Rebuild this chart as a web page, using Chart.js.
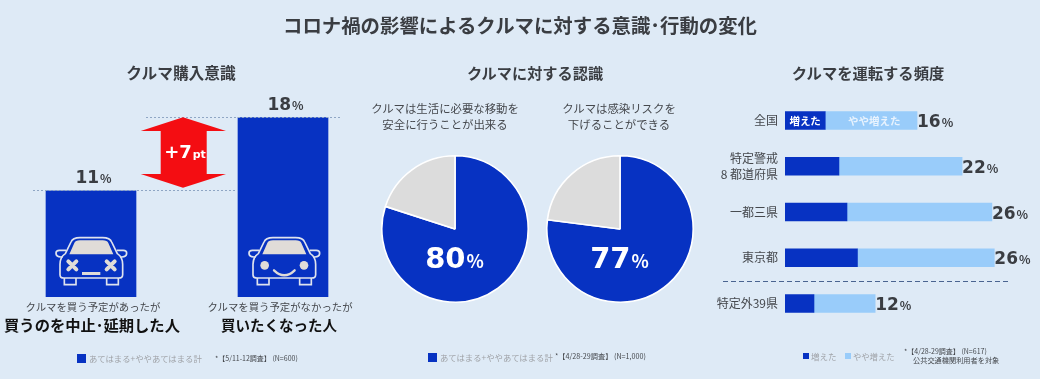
<!DOCTYPE html>
<html lang="ja"><head><meta charset="utf-8">
<script src="https://cdn.jsdelivr.net/npm/chart.js@4"></script>
<style>
html,body{margin:0;padding:0;background:#deeaf6;width:1040px;height:379px;overflow:hidden;font-family:"Noto Sans CJK JP","Noto Sans",sans-serif}
canvas{position:absolute;display:block}
.t{position:absolute;white-space:nowrap;line-height:1;transform:translate(-50%,-50%);z-index:3}
.l{transform:translate(0,-50%)}
.sq{position:absolute}
svg{position:absolute;left:0;top:0;pointer-events:none;z-index:2}
</style></head><body>
<svg id="deco" width="1040" height="379" viewBox="0 0 1040 379">
<defs>
<g id="carBody" fill="none" stroke="#dfe3ee" stroke-width="5">
<path d="M28,50 L45,15 Q50,2 72,2 H140 Q162,2 167,15 L184,50 Q200,60 200,82 V113 Q200,123 188,123 H24 Q12,123 12,113 V82 Q12,60 28,50 Z"/>
<path d="M40,52 L55,18 Q58,10 72,10 H140 Q154,10 157,18 L172,52 Z" fill="#e0dcd8" stroke="none"/>
<path d="M30,40 H10 Q0,40 0,48 Q0,60 14,60 H20"/><path d="M182,40 H202 Q212,40 212,48 Q212,60 198,60 H192"/>
<path d="M25,123 V143 H60 V123"/><path d="M152,123 V143 H187 V123"/>
</g></defs>
<path d="M146,117.5H340M33,190.5H237" stroke="#8fa6c4" stroke-width="1" stroke-dasharray="2 2" fill="none"/>
<path d="M183,117.3L226,131H206.7V174H226L183,187.7L140.7,174H160.7V131H140.7Z" fill="#f40d12"/>
<g transform="translate(56,237) scale(.3333)"><use href="#carBody"/>
<path d="M37,73L61,97M61,73L37,97M152,73L176,97M176,73L152,97" stroke="#e0dcd8" stroke-width="12" stroke-linecap="round"/>
<rect x="78" y="105" width="55" height="9" fill="#e0dcd8"/></g>
<g transform="translate(249,237) scale(.3333)"><use href="#carBody"/>
<circle cx="47" cy="85" r="13" fill="#e0dcd8"/><circle cx="165" cy="85" r="13" fill="#e0dcd8"/>
<path d="M75,100Q106,130 137,100" fill="none" stroke="#e0dcd8" stroke-width="7" stroke-linecap="round"/></g>
<path d="M723,281.5H1011" stroke="#4a6490" stroke-width="1.2" stroke-dasharray="5 3" fill="none"/>
</svg>
<canvas id="barChart" width="384" height="212" style="left:-5px;top:85px"></canvas>
<canvas id="pieA" width="152" height="152" style="left:379px;top:153px"></canvas>
<canvas id="pieB" width="152" height="152" style="left:543.5px;top:153px"></canvas>
<canvas id="hbarChart" width="340" height="258" style="left:700px;top:83px"></canvas>
<script>
const BLUE = '#0732c2', LIGHT = '#99ccfa', GREY = '#dcdcdc', INK = '#3a3d42';
const FONT = '"Noto Sans CJK JP","Noto Sans",sans-serif';
const NUM = '"DejaVu Sans",sans-serif';

const purchaseCategories = ['買うのを中止・延期した人', '買いたくなった人'];
const purchaseValues = [11, 18];
const pieACategories = ['あてはまる+ややあてはまる計', 'その他'];
const pieAValues = [80, 20];
const pieBCategories = ['あてはまる+ややあてはまる計', 'その他'];
const pieBValues = [77, 23];
const driveCategories = ['全国', ['特定警戒', '8 都道府県'], '一都三県', '東京都', '特定外39県'];
const driveIncreased = [5, 6.7, 7.7, 9, 3.6];
const driveSomewhat = [11.4, 15.3, 18, 17, 7.6];
const driveTotals = [16, 22, 26, 26, 12];
const driveSeriesNames = ['増えた', 'やや増えた'];

function pct(ctx, num, x, y, big, small, color, align) {
  ctx.save();
  ctx.fillStyle = color; ctx.textBaseline = 'alphabetic'; ctx.textAlign = 'left';
  ctx.font = 'bold ' + big + 'px ' + NUM;
  const w1 = ctx.measureText(num).width;
  ctx.font = 'bold ' + small + 'px ' + FONT;
  const w2 = ctx.measureText('%').width;
  let x0 = align === 'left' ? x : x - (w1 + w2) / 2;
  ctx.font = 'bold ' + big + 'px ' + NUM;
  ctx.fillText(num, x0, y);
  ctx.font = 'bold ' + small + 'px ' + FONT;
  ctx.fillText('%', x0 + w1 + 1, y);
  ctx.restore();
}

new Chart(document.getElementById('barChart'), {
  type: 'bar',
  data: { labels: purchaseCategories, datasets: [{ data: purchaseValues, backgroundColor: BLUE, barThickness: 90 }] },
  options: {
    responsive: false, animation: false, layout: { padding: 0, autoPadding: false },
    plugins: { legend: { display: false }, tooltip: { enabled: false } },
    scales: { x: { display: false }, y: { display: false, min: 0.84, max: 21.116 } }
  },
  plugins: [{ id: 'vals', afterDatasetsDraw(c) {
    c.getDatasetMeta(0).data.forEach((b, i) => pct(c.ctx, String(purchaseValues[i]), b.x + 2, b.y - 8, 17, 12, INK));
  } }]
});

function pie(id, labels, values) {
  new Chart(document.getElementById(id), {
    type: 'pie',
    data: { labels, datasets: [{ data: values, backgroundColor: [BLUE, GREY], borderColor: '#ffffff', borderWidth: 1.6 }] },
    options: {
      responsive: false, animation: false, layout: { padding: 2 },
      plugins: { legend: { display: false }, tooltip: { enabled: false } }
    },
    plugins: [{ id: 'val', afterDatasetsDraw(c) {
      const a = c.chartArea;
      pct(c.ctx, String(values[0]), (a.left + a.right) / 2 - 1, (a.top + a.bottom) / 2 + 38.5, 29, 18, '#ffffff');
    } }]
  });
}
pie('pieA', pieACategories, pieAValues);
pie('pieB', pieBCategories, pieBValues);

new Chart(document.getElementById('hbarChart'), {
  type: 'bar',
  data: { labels: driveCategories, datasets: [
    { label: driveSeriesNames[0], data: driveIncreased, backgroundColor: BLUE, barThickness: 18 },
    { label: driveSeriesNames[1], data: driveSomewhat, backgroundColor: LIGHT, barThickness: 18 }
  ] },
  options: {
    indexAxis: 'y', responsive: false, animation: false, layout: { padding: 0, autoPadding: false },
    plugins: { legend: { display: false }, tooltip: { enabled: false } },
    scales: {
      x: { display: false, stacked: true, min: 0, max: 255 / 8.05 },
      y: { stacked: true, grid: { display: false, drawTicks: false }, border: { display: false },
        afterFit(s) { s.width = 85; },
        ticks: { color: '#45484d', padding: 7, font: { family: FONT, size: 12, lineHeight: 1.28 } } }
    }
  },
  plugins: [{ id: 'vals', afterDatasetsDraw(c) {
    const ctx = c.ctx, m0 = c.getDatasetMeta(0).data, m1 = c.getDatasetMeta(1).data;
    m1.forEach((b, i) => pct(ctx, String(driveTotals[i]), b.x, b.y + 6.5, 17, 12, INK, 'left'));
    ctx.save();
    ctx.fillStyle = '#ffffff'; ctx.textAlign = 'center'; ctx.textBaseline = 'middle';
    ctx.font = 'bold 10.5px ' + FONT;
    ctx.fillText(driveSeriesNames[0], (m0[0].base + m0[0].x) / 2, m0[0].y);
    ctx.fillStyle = '#e8f3fe';
    ctx.fillText(driveSeriesNames[1], (m1[0].base + m1[0].x) / 2 + 3, m1[0].y);
    ctx.restore();
  } }]
});

function t(text, x, y, size, color, bold, left) {
  const d = document.createElement('div');
  d.className = 't' + (left ? ' l' : '');
  d.textContent = text;
  d.style.cssText = `left:${x}px;top:${y}px;font-size:${size}px;color:${color};font-weight:${bold ? 700 : 400}`;
  document.body.appendChild(d); return d;
}
function sq(x, y, s, c) {
  const d = document.createElement('div'); d.className = 'sq';
  d.style.cssText = `left:${x}px;top:${y}px;width:${s}px;height:${s}px;background:${c}`;
  document.body.appendChild(d);
}
t('コロナ禍の影響によるクルマに対する意識･行動の変化', 520, 25, 19.4, INK, true);
t('クルマ購入意識', 181, 73, 15.7, INK, true);
t('クルマに対する認識', 535, 73, 15.2, INK, true);
t('クルマを運転する頻度', 868, 73, 15.3, INK, true);
t('クルマを買う予定があったが', 93, 307, 10.4, '#45484d');
t('買うのを中止･延期した人', 92, 325, 15.3, '#111', true);
t('クルマを買う予定がなかったが', 280, 307, 10.4, '#45484d');
t('買いたくなった人', 279, 325, 14.5, '#111', true);
t('クルマは生活に必要な移動を', 445, 109, 11.4, '#45484d');
t('安全に行うことが出来る', 445, 125, 11.4, '#45484d');
t('クルマは感染リスクを', 619, 109, 11.4, '#45484d');
t('下げることができる', 619, 125, 11.4, '#45484d');
const p = document.createElement('div');
p.className = 't'; p.style.cssText = 'left:185px;top:152px;color:#fff;font-weight:700;font-family:' + NUM.replace(/"/g, "'");
p.innerHTML = '<span style="font-size:18px">+7</span><span style="font-size:11px;margin-left:1px">pt</span>';
document.body.appendChild(p);
sq(77, 354, 9, BLUE);
t('あてはまる+ややあてはまる計', 89, 358, 8.4, '#a0a3a8', false, true);
t('*【5/11-12調査】 (N=600)', 215, 358, 7, '#45484d', false, true);
sq(428, 353, 9, BLUE);
t('あてはまる+ややあてはまる計', 440, 357, 8.4, '#a0a3a8', false, true);
t('*【4/28-29調査】 (N=1,000)', 555, 357, 7.2, '#45484d', false, true);
sq(803, 353, 6, BLUE);
t('増えた', 811, 356, 8.5, '#a0a3a8', false, true);
sq(845, 353, 6, LIGHT);
t('やや増えた', 853, 356, 8.3, '#a0a3a8', false, true);
t('*【4/28-29調査】 (N=617)', 904, 351, 7, '#45484d', false, true);
t('公共交通機関利用者を対象', 913, 361, 7.2, '#45484d', false, true);
</script>
</body></html>
